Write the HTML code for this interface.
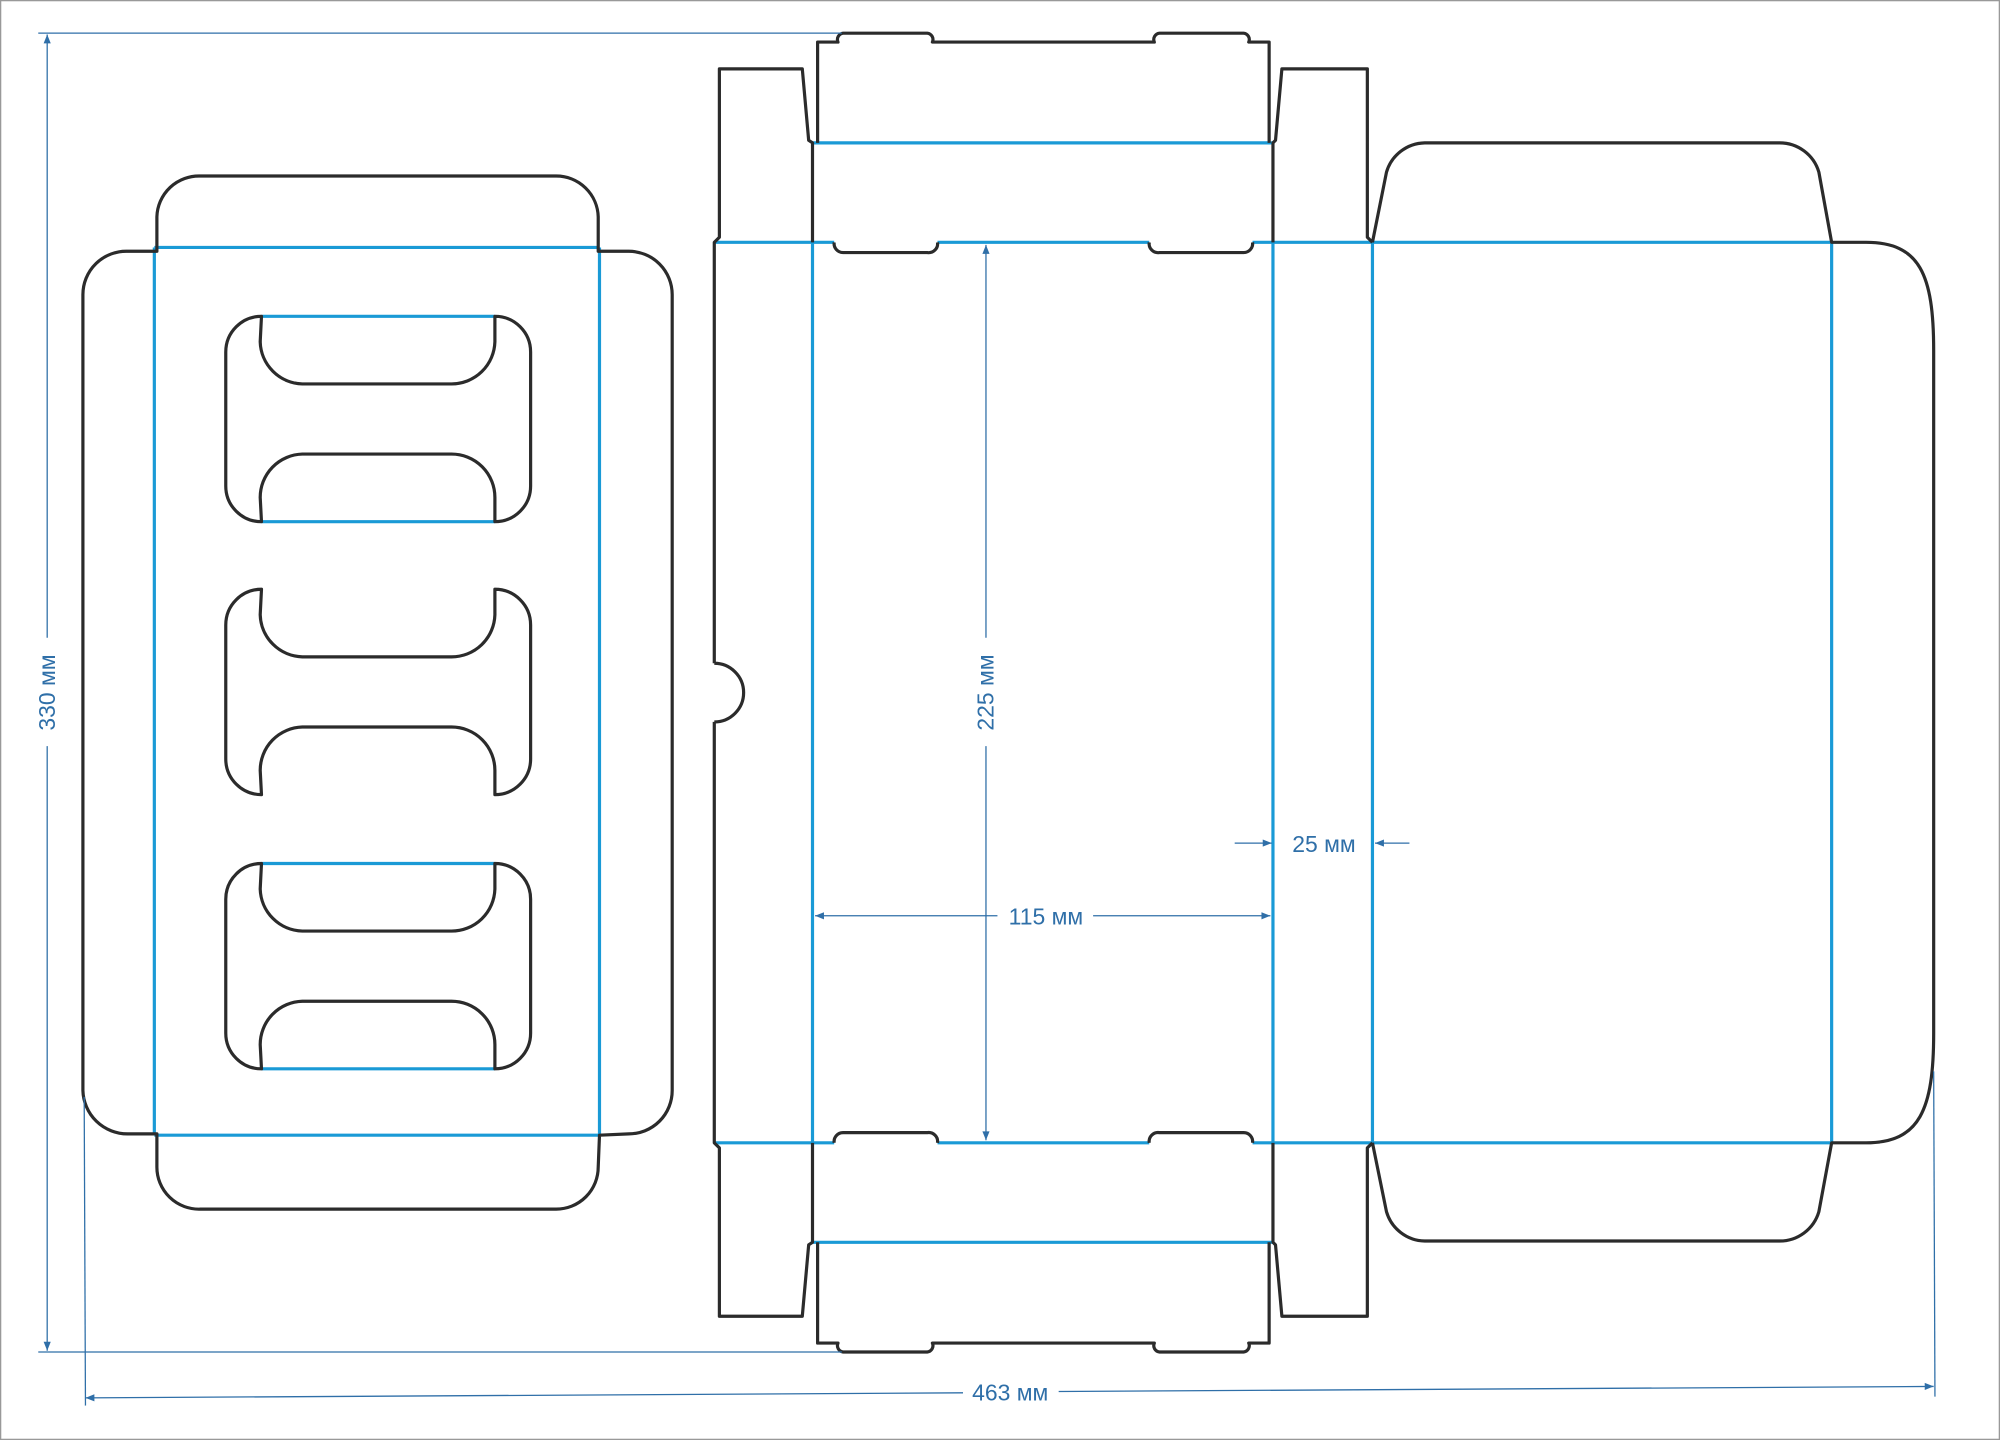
<!DOCTYPE html>
<html><head><meta charset="utf-8"><style>html,body{margin:0;padding:0;background:#fff}svg{display:block}</style></head><body>
<svg width="2000" height="1440" viewBox="0 0 1568 1129" preserveAspectRatio="none" xmlns="http://www.w3.org/2000/svg">
<defs>
<marker id="ar" viewBox="0 0 10 10" refX="10" refY="5" markerWidth="9" markerHeight="7" orient="auto-start-reverse" markerUnits="userSpaceOnUse"><path d="M0,1 L10,5 L0,9 z" fill="#2f6fa8"/></marker>
</defs>
<rect x="0.5" y="0.5" width="1567" height="1128" fill="#fff" stroke="#999" stroke-width="1"/>
<g fill="none" stroke-linejoin="round">
<!-- LEFT PIECE blue -->
<g stroke="#1a9ad6" stroke-width="2.5">
<line x1="121" y1="194" x2="470" y2="194"/><line x1="121" y1="890" x2="470" y2="890"/>
<line x1="121" y1="194" x2="121" y2="890"/><line x1="470" y1="194" x2="470" y2="890"/>
<line x1="205" y1="248" x2="388" y2="248"/><line x1="205" y1="409" x2="388" y2="409"/>
<line x1="205" y1="677" x2="388" y2="677"/><line x1="205" y1="838" x2="388" y2="838"/>
</g>
<g stroke="#2b2b2b" stroke-width="2.5">
<path d="M123,197 L123,170 A33,33 0 0 1 157,138 L436,138 A33,33 0 0 1 469,170 L469,197 L493,197 A34,34 0 0 1 527,231 L527,855 A34,34 0 0 1 493,889 L470,890 L469,915 A33,33 0 0 1 436,948 L157,948 A33,33 0 0 1 123,915 L123,889 L100,889 A35,35 0 0 1 65,855 L65,231 A34,34 0 0 1 100,197 Z"/>
<g id="win">
<path d="M205,248 A28,28 0 0 0 177,276 L177,381 A28,28 0 0 0 205,409 L204,390 A34,34 0 0 1 237,356 L354,356 A34,34 0 0 1 388,390 L388,409 A28,28 0 0 0 416,381 L416,276 A28,28 0 0 0 388,248 L388,268 A34,34 0 0 1 354,301 L237,301 A34,34 0 0 1 204,268 Z"/>
</g>
<use href="#win" y="214"/>
<use href="#win" y="429"/>
</g>
<!-- CENTER blue -->
<g stroke="#1a9ad6" stroke-width="2.5">
<line x1="637" y1="190" x2="637" y2="896"/><line x1="998" y1="190" x2="998" y2="896"/>
<line x1="1076" y1="190" x2="1076" y2="896"/><line x1="1436" y1="190" x2="1436" y2="896"/>
<line x1="1076" y1="190" x2="1436" y2="190"/><line x1="1076" y1="896" x2="1436" y2="896"/>
<g id="topb">
<line x1="637" y1="112" x2="998" y2="112"/>
<line x1="560" y1="190" x2="654" y2="190"/><line x1="735" y1="190" x2="901" y2="190"/><line x1="982" y1="190" x2="1076" y2="190"/>
</g>
<use href="#topb" transform="matrix(1,0,0,-1,0,1086)"/>
</g>
<g stroke="#2b2b2b" stroke-width="2.5">
<g id="topc">
<path d="M560,520 L560,190 L564,186 L564,54 L629,54 L634,110 L637,112 L637,190"/>
<path d="M641,112 L641,33 L657,33 A5,5 0 0 1 661,26 L727,26 A5,5 0 0 1 731,33 L905,33 A5,5 0 0 1 909,26 L975,26 A5,5 0 0 1 979,33 L995,33 L995,112"/>
<path d="M654,190 A7,7 0 0 0 661,198 L727,198 A7,7 0 0 0 735,190"/>
<path d="M901,190 A7,7 0 0 0 909,198 L975,198 A7,7 0 0 0 982,190"/>
<path d="M998,190 L998,112 L1000,110 L1005,54 L1072,54 L1072,186 L1076,190"/>
</g>
<use href="#topc" transform="matrix(1,0,0,-1,0,1086)"/>
<path d="M560,520 A23,23 0 0 1 560,566"/>
<path d="M1076,190 L1087,135 A32,32 0 0 1 1117,112 L1395,112 A32,32 0 0 1 1426,135 L1436,190 L1463,190 C1505,190 1516,215 1516,275 L1516,810 C1516,870 1505,896 1463,896 L1436,896 L1426,950 A32,32 0 0 1 1395,973 L1117,973 A32,32 0 0 1 1087,950 L1076,896"/>
</g>
<!-- DIMENSIONS -->
<g stroke="#2f6fa8" stroke-width="1">
<line x1="30" y1="26" x2="660" y2="26"/><line x1="30" y1="1060" x2="660" y2="1060"/>
<line x1="37" y1="27" x2="37" y2="500" marker-start="url(#ar)"/><line x1="37" y1="585" x2="37" y2="1059" marker-end="url(#ar)"/>
<line x1="66" y1="860" x2="67" y2="1102"/><line x1="1516" y1="840" x2="1517" y2="1095"/>
<line x1="67" y1="1096" x2="755" y2="1092" marker-start="url(#ar)"/><line x1="830" y1="1091" x2="1516" y2="1087" marker-end="url(#ar)"/>
<line x1="773" y1="192" x2="773" y2="500" marker-start="url(#ar)"/><line x1="773" y1="585" x2="773" y2="894" marker-end="url(#ar)"/>
<line x1="639" y1="718" x2="782" y2="718" marker-start="url(#ar)"/><line x1="857" y1="718" x2="996" y2="718" marker-end="url(#ar)"/>
<line x1="968" y1="661" x2="997" y2="661" marker-end="url(#ar)"/>
<line x1="1105" y1="661" x2="1078" y2="661" marker-end="url(#ar)"/>
</g>
</g>
<g fill="#2f6fa8" font-family="Liberation Sans, sans-serif" font-size="18">
<text x="37" y="543" text-anchor="middle" transform="rotate(-90 37 543)" dy="6">330 мм</text>
<text x="773" y="543" text-anchor="middle" transform="rotate(-90 773 543)" dy="6">225 мм</text>
<text x="820" y="725" text-anchor="middle">115 мм</text>
<text x="1038" y="668" text-anchor="middle">25 мм</text>
<text x="792" y="1098" text-anchor="middle">463 мм</text>
</g>
</svg>
</body></html>
